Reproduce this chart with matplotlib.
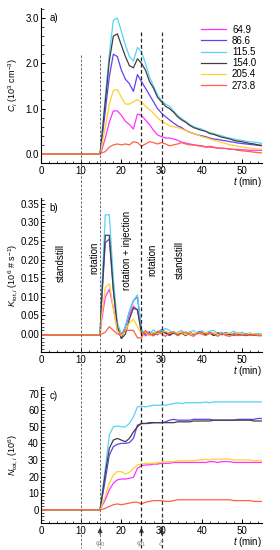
import numpy as np
import matplotlib
matplotlib.use("Agg")
import matplotlib.pyplot as plt
from matplotlib.ticker import MultipleLocator, FormatStrFormatter

plt.rcParams['font.family'] = ['Liberation Sans', 'DejaVu Sans']
plt.rcParams['font.size'] = 7
plt.rcParams['mathtext.fontset'] = 'custom'
plt.rcParams['mathtext.rm'] = 'Liberation Sans'
plt.rcParams['mathtext.it'] = 'Liberation Sans:italic'

# time axis (min): baseline samples 0..14, injection start 14.7, then 15..55
t = list(range(0, 15)) + [14.7] + list(range(15, 56))

labels = ["64.9", "86.6", "115.5", "154.0", "205.4", "273.8"]
colors = ["#ff33ff", "#6640f0", "#55d4f5", "#404040", "#ffd030", "#ff6040"]

base = [0.0] * 16  # t = 0..14.7

# Panel a: C_i (10^3 cm^-3), t = 15..55
C_649 = base + [0.05, 0.35, 0.7, 0.95, 0.95, 0.85, 0.72, 0.65, 0.55, 0.88, 0.85, 0.75, 0.65, 0.52, 0.42, 0.38,
                0.35, 0.35, 0.33, 0.30, 0.26, 0.24, 0.22, 0.20, 0.18, 0.17, 0.15, 0.15, 0.14, 0.13, 0.12,
                0.12, 0.11, 0.10, 0.10, 0.09, 0.09, 0.08, 0.08, 0.08, 0.08]
C_866 = base + [0.2, 0.95, 1.7, 2.2, 2.15, 1.85, 1.65, 1.55, 1.38, 1.75, 1.6, 1.45, 1.3, 1.15, 1.0, 0.9,
                0.82, 0.75, 0.68, 0.62, 0.58, 0.52, 0.48, 0.45, 0.42, 0.40, 0.38, 0.35, 0.33, 0.32, 0.30,
                0.29, 0.27, 0.26, 0.24, 0.23, 0.22, 0.21, 0.20, 0.19, 0.18]
C_1155 = base + [0.3, 1.26, 2.2, 2.95, 3.0, 2.7, 2.4, 2.15, 2.05, 2.35, 2.25, 2.0, 1.7, 1.5, 1.3, 1.18,
                 1.1, 1.05, 0.95, 0.85, 0.78, 0.72, 0.65, 0.60, 0.57, 0.55, 0.50, 0.47, 0.45, 0.42, 0.40,
                 0.37, 0.35, 0.33, 0.31, 0.30, 0.28, 0.27, 0.26, 0.25, 0.23]
C_1540 = base + [0.27, 1.15, 2.05, 2.6, 2.65, 2.4, 2.15, 1.95, 1.9, 2.1, 2.0, 1.85, 1.6, 1.45, 1.25, 1.15,
                 1.05, 1.0, 0.92, 0.82, 0.75, 0.70, 0.63, 0.58, 0.55, 0.52, 0.50, 0.45, 0.43, 0.40, 0.37,
                 0.35, 0.33, 0.30, 0.28, 0.27, 0.25, 0.23, 0.22, 0.20, 0.19]
C_2054 = base + [0.12, 0.6, 1.1, 1.4, 1.42, 1.25, 1.1, 1.1, 1.15, 1.2, 1.15, 1.05, 0.98, 0.9, 0.8, 0.72,
                 0.68, 0.62, 0.60, 0.58, 0.55, 0.52, 0.48, 0.45, 0.42, 0.38, 0.36, 0.33, 0.30, 0.28, 0.25,
                 0.23, 0.20, 0.19, 0.17, 0.15, 0.14, 0.13, 0.12, 0.11, 0.10]
C_2738 = base + [0.02, 0.05, 0.15, 0.2, 0.22, 0.2, 0.22, 0.2, 0.27, 0.25, 0.17, 0.22, 0.27, 0.25, 0.22, 0.25,
                 0.22, 0.18, 0.20, 0.22, 0.25, 0.22, 0.20, 0.20, 0.19, 0.18, 0.16, 0.17, 0.15, 0.13, 0.13,
                 0.12, 0.10, 0.10, 0.08, 0.07, 0.06, 0.05, 0.04, 0.03, 0.02]

kb = [-0.003] * 16
# Panel b: K_tot,i (10^6 # s^-1), t = 15..55
K_649 = kb + [0.03, 0.10, 0.12, 0.07, 0.01, -0.01, 0.02, 0.05, 0.075, 0.065, 0.01, -0.005, 0.005, 0.0, 0.003,
              0.008, 0.002, -0.004, 0.004, 0.0, 0.005, -0.003, 0.004, 0.0, 0.003, 0.006, -0.002, 0.004, -0.003,
              0.002, 0.0, 0.003, -0.002, 0.002, 0.0, -0.003, 0.002, 0.0, -0.002, -0.003, -0.003]
K_866 = kb + [0.07, 0.245, 0.255, 0.12, 0.02, -0.01, 0.02, 0.06, 0.09, 0.10, 0.01, 0.0, 0.006, -0.004, 0.004,
              0.012, 0.006, 0.0, 0.007, -0.004, 0.004, 0.0, 0.006, -0.002, 0.005, 0.008, 0.0, 0.006, -0.002,
              0.004, -0.002, 0.004, 0.0, -0.002, 0.003, 0.0, -0.002, 0.002, -0.002, -0.002, -0.003]
K_1155 = kb + [0.09, 0.32, 0.32, 0.15, 0.03, 0.0, 0.02, 0.06, 0.09, 0.105, 0.01, 0.005, 0.0, 0.012, 0.0,
               0.01, 0.015, 0.01, 0.0, 0.005, 0.01, 0.0, 0.005, 0.01, 0.0, 0.008, 0.003, 0.008, 0.01, 0.0,
               0.005, 0.0, 0.003, 0.008, 0.0, 0.005, 0.0, 0.003, 0.0, 0.002, 0.0]
K_1540 = kb + [0.08, 0.265, 0.265, 0.12, 0.02, -0.012, 0.0, 0.04, 0.07, 0.065, 0.0, 0.002, -0.003, 0.004, -0.002,
               0.006, 0.003, -0.003, 0.004, -0.002, 0.003, -0.004, 0.003, 0.0, 0.002, 0.004, -0.002, 0.002, -0.004,
               0.0, 0.002, -0.002, 0.0, -0.004, 0.0, -0.002, -0.004, -0.002, -0.003, -0.004, -0.004]
K_2054 = kb + [0.04, 0.125, 0.135, 0.07, 0.01, -0.005, 0.01, 0.03, 0.04, 0.02, 0.0, 0.004, -0.004, 0.005, 0.0,
               0.004, 0.008, 0.002, 0.006, 0.002, 0.006, -0.002, 0.004, 0.0, 0.004, 0.002, 0.005, 0.0, 0.004,
               -0.002, 0.002, 0.0, 0.003, -0.002, 0.002, 0.0, -0.002, 0.002, 0.0, -0.002, -0.002]
K_2738 = kb + [0.0, 0.005, 0.02, 0.01, 0.0, 0.0, 0.01, 0.01, 0.01, -0.01, -0.01, 0.01, 0.0, -0.005, 0.008,
               0.0, -0.006, 0.004, 0.006, -0.004, 0.002, 0.006, -0.002, -0.006, 0.004, 0.0, -0.004, 0.004, 0.0,
               -0.006, 0.002, -0.004, -0.006, 0.0, -0.004, -0.003, 0.0, -0.004, -0.002, -0.003, -0.004]

# Panel c: N_tot,i (10^6), t = 15..55
N_649 = base + [1.5, 6, 12, 16, 18, 18.5, 18.5, 19, 19.5, 25, 26.5, 27, 27, 27.5, 27.5, 28,
                28, 28, 28.5, 28.5, 28.5, 28.5, 28.5, 28.5, 28.5, 28.5, 28.5, 29, 29, 28.5, 29,
                29, 29, 28.5, 28.5, 28.5, 28.5, 28.5, 28.5, 28.5, 28.5]
N_866 = base + [4, 18, 33, 38, 39.5, 40, 40, 40.5, 43, 51, 52, 52, 52, 52.5, 52.5, 52.5,
                53, 54, 54.5, 54, 54, 54, 54, 54.5, 54.5, 54.5, 54.5, 54.5, 54, 54, 54,
                54, 54, 54, 54.5, 54.5, 54.5, 54.5, 54.5, 55, 55]
N_1155 = base + [6, 25, 45, 50, 50.5, 50, 50, 52, 56, 62, 62.5, 62, 62.5, 63, 63, 63,
                 63, 63.5, 64, 64.5, 64, 64.5, 64.5, 64.5, 64.5, 64.5, 65, 64.5, 65, 65, 65,
                 65, 65, 65, 65, 65, 65, 65, 65, 65, 65]
N_1540 = base + [5, 22, 37, 42, 43, 42, 41, 43, 47, 50, 52, 52, 52.5, 52.5, 52.5, 52.5,
                 52.5, 52.5, 52.5, 53, 53, 53, 53, 53.5, 53.5, 53.5, 53.5, 53.5, 54, 54, 54,
                 54, 54, 54, 54, 54, 54, 54, 53.5, 53.5, 53.5]
N_2054 = base + [2, 8, 16, 21, 23, 23, 21.5, 22.5, 25, 27, 27.5, 28, 28, 28, 28.5, 28.5,
                 29, 29, 29, 29.5, 29.5, 29.5, 29.5, 29.5, 30, 30, 30.5, 30, 30.5, 30.5, 30.5,
                 30.5, 30.5, 30, 30, 30, 30, 30, 29.5, 29.5, 29.5]
N_2738 = base + [0.2, 0.8, 2, 3, 3.5, 3, 3.5, 4, 4.5, 4.5, 3.5, 4.5, 5, 5.5, 5.5, 5.5,
                 5, 5, 5.5, 6, 6, 6, 6, 6, 6, 6, 6, 6, 6, 6, 6,
                 6, 6, 5.5, 5.5, 5.5, 5.5, 5.5, 5, 5, 5]

C_all = [C_649, C_866, C_1155, C_1540, C_2054, C_2738]
K_all = [K_649, K_866, K_1155, K_1540, K_2054, K_2738]
N_all = [N_649, N_866, N_1155, N_1540, N_2054, N_2738]

W, H = 280, 550
fig = plt.figure(figsize=(W / 100, H / 100), dpi=100)

left = 41 / W
width = (262 - 41) / W

def mk(top_px, bot_px):
    return fig.add_axes([left, 1 - bot_px / H, width, (bot_px - top_px) / H])

ax1 = mk(8, 163)
ax2 = mk(198, 352)
ax3 = mk(387, 523)

for ax in (ax1, ax2, ax3):
    ax.set_facecolor('none')
    ax.spines['top'].set_visible(False)
    ax.spines['right'].set_visible(False)
    ax.spines['left'].set_linewidth(0.8)
    ax.spines['bottom'].set_linewidth(0.8)
    ax.set_xlim(0, 55)
    ax.xaxis.set_major_locator(MultipleLocator(10))
    ax.xaxis.set_minor_locator(MultipleLocator(2))
    ax.tick_params(which='both', direction='in', labelsize=7)
    ax.tick_params(axis='x', pad=2)
    ax.tick_params(axis='y', pad=1.5)
    ax.tick_params(which='major', length=3, width=0.7)
    ax.tick_params(which='minor', length=1.8, width=0.5)

for y, c, l in zip(C_all, colors, labels):
    ax1.plot(t, y, color=c, lw=0.9, label=l)
for y, c in zip(K_all, colors):
    ax2.plot(t, y, color=c, lw=0.9)
for y, c in zip(N_all, colors):
    ax3.plot(t, y, color=c, lw=0.9)

ax1.set_ylim(-0.2, 3.22)
ax1.yaxis.set_major_locator(MultipleLocator(1.0))
ax1.yaxis.set_minor_locator(MultipleLocator(0.2))
ax1.yaxis.set_major_formatter(FormatStrFormatter('%.1f'))
ax1.set_ylabel(r'$C_i$ (10$^3$ cm$^{-3}$)', fontsize=6.5)

ax2.set_ylim(-0.048, 0.365)
ax2.yaxis.set_major_locator(MultipleLocator(0.05))
ax2.yaxis.set_minor_locator(MultipleLocator(0.01))
ax2.yaxis.set_major_formatter(FormatStrFormatter('%.2f'))
ax2.set_ylabel(r'$K_{\mathrm{tot},i}$ (10$^6$ # s$^{-1}$)', fontsize=6.5)

ax3.set_ylim(-8, 74)
ax3.yaxis.set_major_locator(MultipleLocator(10))
ax3.yaxis.set_minor_locator(MultipleLocator(2))
ax3.set_ylabel(r'$N_{\mathrm{tot},i}$ (10$^6$)', fontsize=6.5)

for ax in (ax1, ax2, ax3):
    ax.yaxis.set_label_coords((19.5 - 41) / (262 - 41), 0.5)

for ax, lab in ((ax1, 'a)'), (ax2, 'b)'), (ax3, 'c)')):
    ax.text(0.04, 0.97, lab, transform=ax.transAxes, fontsize=7, va='top', ha='left')
    ax.text(1.0, -0.075 if ax is not ax3 else -0.09, r'$t$ (min)', transform=ax.transAxes,
            fontsize=7, ha='right', va='top')

ax1.legend(loc='upper right', bbox_to_anchor=(1.0, 0.93), frameon=False, fontsize=7,
           handlelength=2.6, handletextpad=0.6, labelspacing=0.12, borderaxespad=0.2)

# phase annotations in panel b
for x, y, s in ((5.0, 0.19, 'standstill'), (13.2, 0.205, 'rotation'),
                (21.3, 0.225, 'rotation + injection'), (27.6, 0.2, 'rotation'),
                (34.6, 0.2, 'standstill')):
    ax2.text(x, y, s, rotation=90, ha='center', va='center', fontsize=7)

# overlay axes for vertical dashed lines spanning the panels
ov = fig.add_axes([left, 0, width, 1])
ov.set_xlim(0, 55)
ov.set_ylim(H, 0)
ov.axis('off')
ov.plot([10, 10], [55, 548], ls=(0, (3, 2)), color='#555555', lw=0.6)
ov.plot([14.7, 14.7], [55, 548], ls=(0, (3, 2)), color='#555555', lw=0.6)
ov.plot([25, 25], [32, 548], ls=(0, (3, 2)), color='#222222', lw=0.9)
ov.plot([30, 30], [32, 548], ls=(0, (3, 2)), color='#333333', lw=0.9)

# arrows and phase symbols under panel c
for x, s in ((14.7, r'$\varphi_0$'), (25, r'$\varphi_1$'), (30, r'$\zeta$')):
    ov.annotate('', xy=(x, 525), xytext=(x, 537), xycoords='data',
                arrowprops=dict(arrowstyle='->', color='#222222', lw=0.9, mutation_scale=6))
    ov.text(x, 539, s, ha='center', va='top', fontsize=6, color='#888888')

fig.savefig('out.png', dpi=100)
